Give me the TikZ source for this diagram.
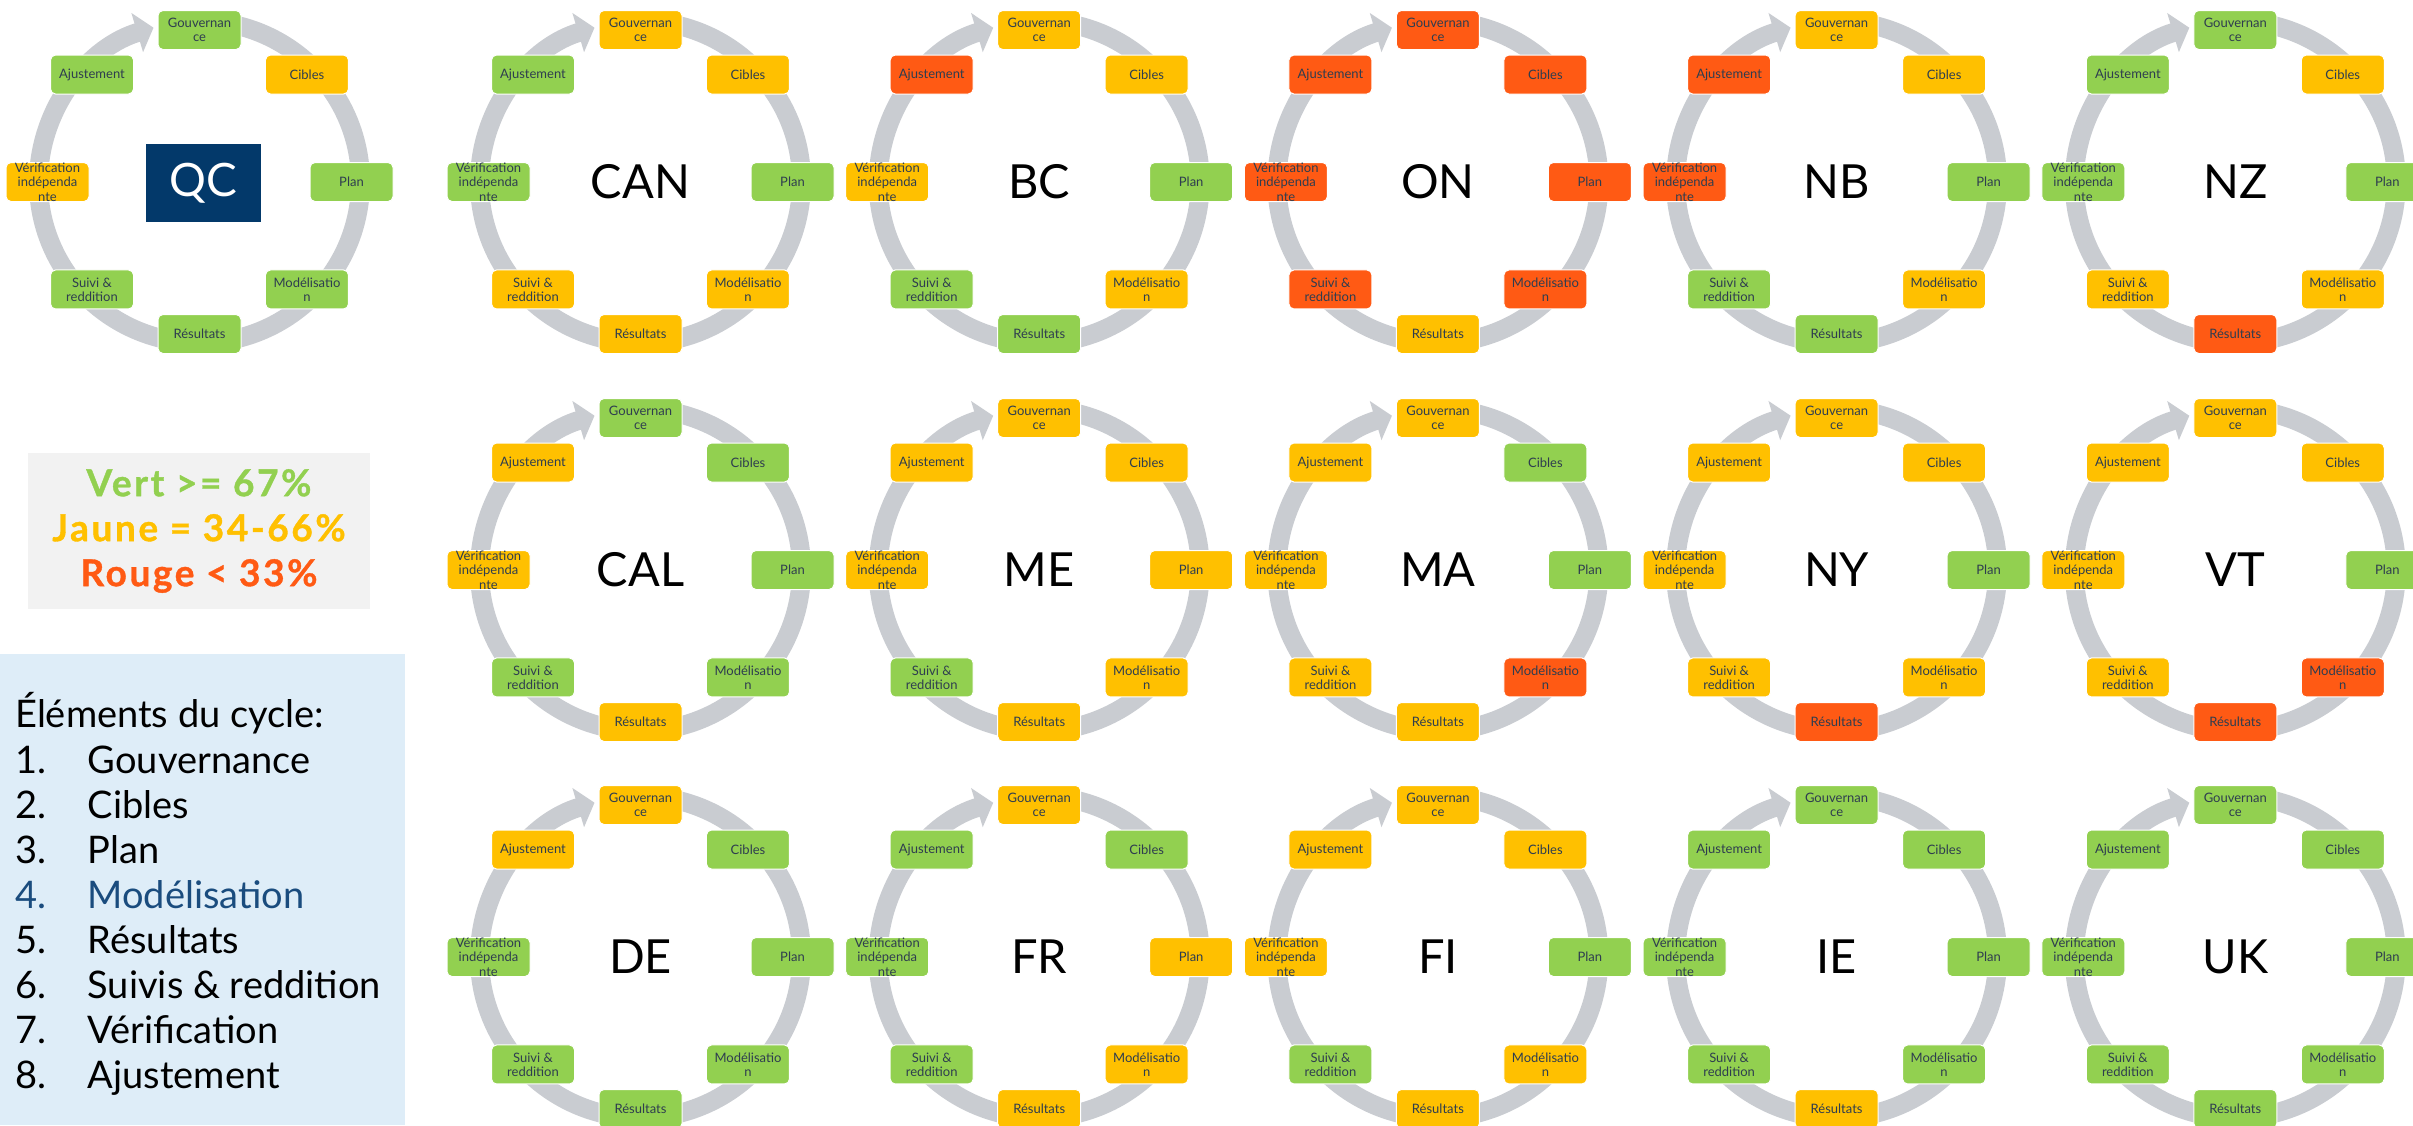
\documentclass[tikz,border=0pt]{standalone}
\usepackage{fontspec}
\setmainfont{Lato}
\usetikzlibrary{arrows.meta}
\definecolor{cV}{HTML}{92D050}
\definecolor{cJ}{HTML}{FFC000}
\definecolor{cR}{HTML}{FF5A14}
\definecolor{ringgray}{HTML}{C9CCD1}
\definecolor{boxtxt}{HTML}{2E3D4F}
\definecolor{navy}{HTML}{03396A}
\definecolor{legblue}{HTML}{DEEDF8}
\definecolor{leggray}{HTML}{F2F2F2}
\definecolor{modblue}{HTML}{1A4C7E}
\tikzset{
  stepbox/.style={rounded corners=5pt, draw=white, line width=1pt, minimum width=83pt,
    minimum height=39pt, inner sep=0pt, align=center, text=boxtxt,
    font=\fontsize{13}{14.3}\selectfont},
  ringarc/.style={draw=ringgray, line width=19pt, -{Triangle[length=17pt,width=40pt]}},
  biglabel/.style={font=\fontsize{47}{56}\selectfont, text=black, inner sep=0pt},
  legline/.style={anchor=base west, inner sep=0pt, font=\fontsize{38}{45}\selectfont},
}
\newcommand{\steplabel}[1]{\ifcase#1\or Gouvernan\\ce\or Cibles\or Plan\or Modélisatio\\n\or Résultats\or Suivi \&\\reddition\or Vérification\\indépenda\\nte\or Ajustement\fi}
\newcommand{\drawcycle}[4]{%
  \coordinate (#1) at (#2,-#3);
  \draw[ringarc] ([shift={(85:161pt)}]#1) arc[start angle=85,end angle=-253.4,radius=161pt];
  \foreach \col [count=\i] in {#4} {
    \pgfmathsetmacro{\ang}{90-45*(\i-1)}
    \path ([shift={(\ang:152pt)}]#1) node[stepbox, fill=\col] (#1-\i) {\steplabel{\i}};
  }
}
\begin{document}
\begin{tikzpicture}[x=1pt,y=1pt]
\path[use as bounding box] (0,0) rectangle (2413,-1125);
\clip (0,0) rectangle (2413,-1125);
\fill[white] (0,0) rectangle (2413,-1125);

% QC
\drawcycle{QC}{199.5}{182}{cV,cJ,cV,cV,cV,cV,cJ,cV}
\node[fill=navy, minimum width=115pt, minimum height=78pt, inner sep=0pt,
  text=white, font=\fontsize{46}{56}\selectfont] (QC-lab) at (203.5,-183) {QC};

% row 1
\drawcycle{CAN}{640.5}{182}{cJ,cJ,cV,cJ,cJ,cJ,cV,cV}
\node[biglabel] (CAN-lab) at (CAN) {CAN};
\drawcycle{BC}{1039.2}{182}{cJ,cJ,cV,cJ,cV,cV,cJ,cR}
\node[biglabel] (BC-lab) at (BC) {BC};
\drawcycle{ON}{1437.9}{182}{cR,cR,cR,cR,cJ,cR,cR,cR}
\node[biglabel] (ON-lab) at (ON) {ON};
\drawcycle{NB}{1836.6}{182}{cJ,cJ,cV,cJ,cV,cV,cR,cR}
\node[biglabel] (NB-lab) at (NB) {NB};
\drawcycle{NZ}{2235.3}{182}{cV,cJ,cV,cJ,cR,cJ,cV,cV}
\node[biglabel] (NZ-lab) at (NZ) {NZ};

% row 2
\drawcycle{CAL}{640.5}{570}{cV,cV,cV,cV,cJ,cV,cJ,cJ}
\node[biglabel] (CAL-lab) at (CAL) {CAL};
\drawcycle{ME}{1039.2}{570}{cJ,cJ,cJ,cJ,cJ,cV,cJ,cJ}
\node[biglabel] (ME-lab) at (ME) {ME};
\drawcycle{MA}{1437.9}{570}{cJ,cV,cV,cR,cJ,cJ,cJ,cJ}
\node[biglabel] (MA-lab) at (MA) {MA};
\drawcycle{NY}{1836.6}{570}{cJ,cJ,cV,cJ,cR,cJ,cJ,cJ}
\node[biglabel] (NY-lab) at (NY) {NY};
\drawcycle{VT}{2235.3}{570}{cJ,cJ,cV,cR,cR,cJ,cJ,cJ}
\node[biglabel] (VT-lab) at (VT) {VT};

% row 3
\drawcycle{DE}{640.5}{957}{cJ,cV,cV,cV,cV,cV,cV,cJ}
\node[biglabel] (DE-lab) at (DE) {DE};
\drawcycle{FR}{1039.2}{957}{cJ,cV,cJ,cJ,cJ,cV,cV,cV}
\node[biglabel] (FR-lab) at (FR) {FR};
\drawcycle{FI}{1437.9}{957}{cJ,cJ,cV,cJ,cJ,cV,cJ,cJ}
\node[biglabel] (FI-lab) at (FI) {FI};
\drawcycle{IE}{1836.6}{957}{cV,cV,cV,cV,cJ,cV,cV,cV}
\node[biglabel] (IE-lab) at (IE) {IE};
\drawcycle{UK}{2235.3}{957}{cV,cV,cV,cV,cV,cV,cV,cV}
\node[biglabel] (UK-lab) at (UK) {UK};

% legend: thresholds
\node[fill=leggray, minimum width=342pt, minimum height=156pt, inner sep=0pt, align=center,
  font=\bfseries\fontsize{37}{45}\selectfont\addfontfeatures{LetterSpace=7,FakeBold=1}] (seuils) at (199,-531)
  {\textcolor{cV}{Vert >= 67\%}\\\textcolor{cJ}{Jaune = 34-66\%}\\\textcolor{cR}{Rouge < 33\%}};

% legend: list
\node[fill=legblue, minimum width=405pt, minimum height=471pt, inner sep=0pt, anchor=north west]
  (liste) at (0,-654) {};
\node[legline] (titre) at (15,-727) {Éléments du cycle:};
\foreach \n/\t [count=\k] in {1/Gouvernance,2/Cibles,3/Plan,4/Modélisation,5/Résultats,6/Suivis \& reddition,7/Vérification,8/Ajustement}{
  \ifnum\k=4 \def\lc{modblue}\else\def\lc{black}\fi
  \node[legline, text=\lc] (num-\k) at (15,{-773.8-45*(\k-1)}) {\n.};
  \node[legline, text=\lc] (item-\k) at (87.5,{-773.8-45*(\k-1)}) {\t};
}
\end{tikzpicture}
\end{document}
